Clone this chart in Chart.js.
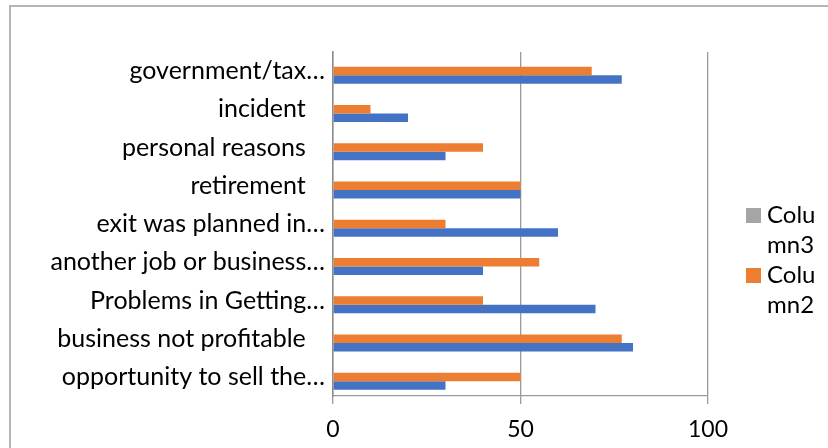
<!DOCTYPE html>
<html>
<head>
<meta charset="utf-8">
<script src="https://cdn.jsdelivr.net/npm/chart.js"></script>
<style>
  html, body { margin: 0; padding: 0; background: #fff; }
  #wrap { width: 828px; height: 448px; position: relative; }
</style>
</head>
<body>
<div id="wrap"><canvas id="barChart"></canvas></div>
<script>
// categories, top to bottom as shown
const categories = [
    "government/tax…",
    "incident   ",
    "personal reasons   ",
    "retirement   ",
    "exit was planned in…",
    "another job or business…",
    "Problems in Getting…",
    "business not profitable   ",
    "opportunity to sell the…"
];
const column1 = [77, 20, 30, 50, 60, 40, 70, 80, 30];
const column2 = [69, 10, 40, 50, 30, 55, 40, 77, 50];
const column3 = [null, null, null, null, null, null, null, null, null];
const xTicks = [0, 50, 100];

const FONT = "Lato";
const GRID = "#9a9a9a";

// outer frame + the cut-off, word-wrapped legend
const excelLook = {
    id: "excelLook",
    afterDraw(chart) {
        const ctx = chart.ctx;
        ctx.save();
        ctx.strokeStyle = "#b4b4b4";
        ctx.lineWidth = 2;
        ctx.beginPath();
        ctx.moveTo(10, 448); ctx.lineTo(10, 6); ctx.lineTo(828, 6);
        ctx.stroke();

        // only the first two entries fit in the legend box
        const items = chart.data.datasets.slice(0, 2);
        ctx.font = "24px " + FONT;
        ctx.textBaseline = "alphabetic";
        let y = 223;
        items.forEach(ds => {
            ctx.fillStyle = ds.backgroundColor;
            ctx.fillRect(746, y - 15, 15, 15);
            ctx.fillStyle = "#000";
            ctx.fillText(ds.label.slice(0, 4), 767, y);
            ctx.fillText(ds.label.slice(4), 767, y + 30);
            y += 60;
        });
        ctx.restore();
    }
};

new Chart(document.getElementById("barChart"), {
    type: "bar",
    data: {
        labels: categories,
        datasets: [
            { label: "Column3", data: column3, backgroundColor: "#a5a5a5" },
            { label: "Column2", data: column2, backgroundColor: "#ed7d31" },
            { label: "Column1", data: column1, backgroundColor: "#4472c4" }
        ]
    },
    options: {
        indexAxis: "y",
        responsive: true,
        maintainAspectRatio: false,
        animation: false,
        datasets: { bar: { categoryPercentage: 0.667, barPercentage: 1.0 } },
        layout: { padding: { left: 0, right: 120, top: 52, bottom: 0 } },
        plugins: { legend: { display: false }, tooltip: { enabled: false } },
        scales: {
            x: {
                min: xTicks[0],
                max: xTicks[xTicks.length - 1],
                ticks: { stepSize: xTicks[1] - xTicks[0], color: "#000", padding: 12,
                         font: { family: FONT, size: 23 } },
                grid: { color: GRID, lineWidth: 1.3, tickLength: 8 },
                border: { color: GRID, width: 1.3 },
                afterFit(scale) { scale.height = 52; }
            },
            y: {
                ticks: { color: "#000", padding: 8, font: { family: FONT, size: 25 } },
                grid: { display: false, drawTicks: false, tickLength: 0 },
                border: { display: true, color: "#8c8c8c", width: 1.5 },
                afterFit(scale) { scale.width = 333; }
            }
        }
    },
    plugins: [excelLook]
});
</script>
</body>
</html>
